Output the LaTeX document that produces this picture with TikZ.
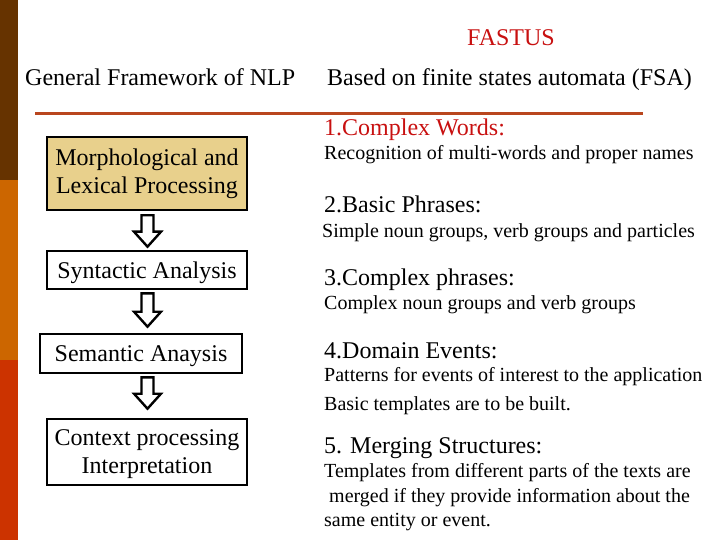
\documentclass[tikz,border=0pt]{standalone}
\usepackage{fontspec}
\setmainfont{Liberation Serif}
\usetikzlibrary{calc}
\definecolor{barA}{HTML}{663300}
\definecolor{barB}{HTML}{CC6600}
\definecolor{barC}{HTML}{CC3300}
\definecolor{rule}{RGB}{185,70,30}
\definecolor{titlered}{RGB}{200,16,16}
\definecolor{tan}{RGB}{232,208,140}
\tikzset{
  big/.style={font=\fontsize{24}{28}\selectfont},
  small/.style={font=\fontsize{20}{24}\selectfont},
  txt/.style={anchor=base west, inner sep=0pt},
  stagebox/.style={draw=black, line width=2.6pt, align=center, inner sep=0pt, big},
  blockarr/.style={draw=black, line width=2.4pt, fill=white, line join=miter}
}
% #1 top node, #2 bottom node, #3 gap below top, #4 gap above bottom
\newcommand{\flowarrow}[4]{%
  \draw[blockarr] let \p1=(#1.south), \p2=(#2.north), \p3=(axis) in
   (\x3-6pt,\y1-#3) -- (\x3+6pt,\y1-#3) -- (\x3+6pt,\y2+#4+15pt)
   -- (\x3+13.5pt,\y2+#4+15pt) -- (\x3,\y2+#4) -- (\x3-13.5pt,\y2+#4+15pt)
   -- (\x3-6pt,\y2+#4+15pt) -- cycle;}
\begin{document}
\begin{tikzpicture}[x=1pt,y=-1pt]
\useasboundingbox (0,0) rectangle (720,540);
% side bar
\fill[barA] (0,0) rectangle (18,180);
\fill[barB] (0,180) rectangle (18,360);
\fill[barC] (0,360) rectangle (18,540);
% titles
\node[big, text=titlered, anchor=base, inner sep=0pt] (title) at (511,46) {FASTUS};
\node[big, txt] (gen) at (25,86) {General Framework of NLP};
\node[big, txt] (fsa) at (327,86) {Based on finite states automata (FSA)};
\coordinate (ruleL) at (35,114);
\coordinate (ruleR) at (643,114);
\draw[rule, line width=3pt] (ruleL) -- (ruleR);
% left column boxes
\coordinate (axis) at (147.5,0);
\node[stagebox, fill=tan, minimum width=200pt, minimum height=73pt] (morph) at (147,173.5) {Morphological and\\Lexical Processing};
\node[stagebox, fill=white, text depth=0pt, minimum width=200pt, minimum height=38pt] (syn) at (147,270) {Syntactic Analysis};
\node[stagebox, fill=white, text depth=0pt, minimum width=202pt, minimum height=39pt] (sem) at (141,353.5) {Semantic Anaysis};
\node[stagebox, fill=white, text depth=0pt, minimum width=200pt, minimum height=66pt] (ctx) at (147,452) {Context processing\\Interpretation};
\flowarrow{morph}{syn}{4pt}{3pt}
\flowarrow{syn}{sem}{3pt}{6pt}
\flowarrow{sem}{ctx}{3pt}{9pt}
% right column
\node[big, txt, text=titlered] (h1) at (324,136) {1.Complex Words:};
\node[small, txt] (d1) at (324,160) {Recognition of multi-words and proper names};
\node[big, txt] (h2) at (324,213) {2.Basic Phrases:};
\node[small, txt] (d2) at (322,237) {Simple noun groups, verb groups and particles};
\node[big, txt] (h3) at (324,285) {3.Complex phrases:};
\node[small, txt] (d3) at (324,309) {Complex noun groups and verb groups};
\node[big, txt] (h4) at (324,358) {4.Domain Events:};
\node[small, txt] (d4a) at (324,381) {Patterns for events of interest to the application};
\node[small, txt] (d4b) at (324,410) {Basic templates are to be built.};
\node[big, txt] (h5) at (324,453) {5. Merging Structures:};
\node[small, txt] (d5a) at (324,477) {Templates from different parts of the texts are};
\node[small, txt] (d5b) at (329,502) {merged if they provide information about the};
\node[small, txt] (d5c) at (324,526) {same entity or event.};
\end{tikzpicture}
\end{document}
